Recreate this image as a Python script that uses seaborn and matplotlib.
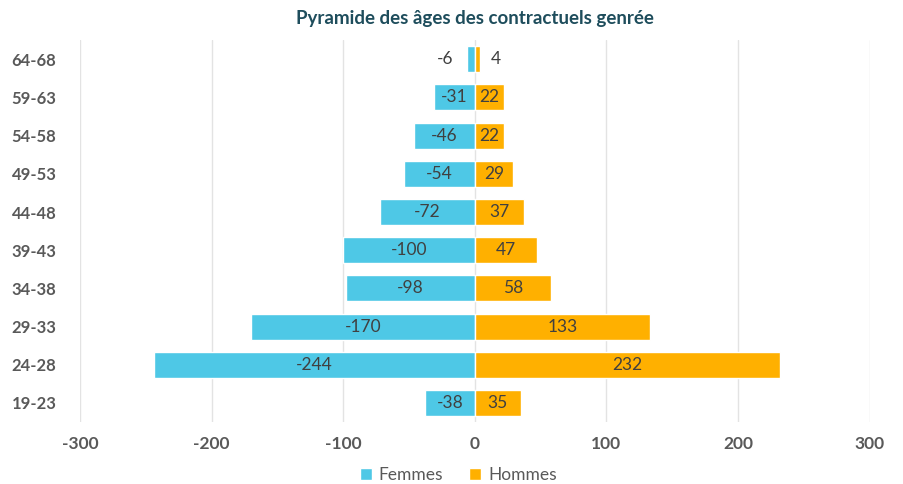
import matplotlib
matplotlib.use("Agg")
import matplotlib.pyplot as plt
import pandas as pd
import seaborn as sns

ages = ["64-68", "59-63", "54-58", "49-53", "44-48", "39-43", "34-38", "29-33", "24-28", "19-23"]
femmes = [-6, -31, -46, -54, -72, -100, -98, -170, -244, -38]
hommes = [4, 22, 22, 29, 37, 47, 58, 133, 232, 35]
xticks = [-300, -200, -100, 0, 100, 200, 300]

df = pd.DataFrame({
    "age": ages * 2,
    "value": femmes + hommes,
    "sexe": ["Femmes"] * len(ages) + ["Hommes"] * len(ages),
})

sns.set_style("white")
plt.rcParams["font.family"] = ["Lato", "DejaVu Sans"]

fig = plt.figure(figsize=(9.04, 4.84), dpi=100)
ax = fig.add_axes([0.0885, 0.128, 0.8735, 0.789])

sns.barplot(data=df, x="value", y="age", hue="sexe", order=ages, dodge=False,
            palette={"Femmes": "#4EC8E6", "Hommes": "#FFB000"}, saturation=1,
            width=0.68, orient="h", ax=ax, legend=True)

ax.set_xlim(-300, 300)
ax.set_xticks(xticks)
ax.set_xticklabels([str(t) for t in xticks], fontsize=12.5, fontweight="bold", color="#595959")
ax.tick_params(axis="y", labelsize=12, labelcolor="#595959", length=0, pad=17)
for lbl in ax.get_yticklabels():
    lbl.set_fontweight("bold")
ax.tick_params(axis="x", length=0, pad=10)
ax.set_xlabel("")
ax.set_ylabel("")
ax.grid(axis="x", color="#E3E3E3", linewidth=1)
ax.set_axisbelow(True)
for s in ax.spines.values():
    s.set_visible(False)

for i, (f, h) in enumerate(zip(femmes, hommes)):
    for v in (f, h):
        if abs(v) < 10:
            x = v + (-10 if v < 0 else 8)
            ha = "right" if v < 0 else "left"
        else:
            x = v / 2
            ha = "center"
        ax.text(x, i, str(v), ha=ha, va="center", fontsize=12.5, color="#404040")

ax.set_title("Pyramide des âges des contractuels genrée", fontsize=13.5,
             fontweight="bold", color="#1E4D5C", pad=12)

handles, labels = ax.get_legend_handles_labels()
ax.get_legend().remove()
fig.legend(handles, labels, loc="lower center", bbox_to_anchor=(0.507, -0.012), ncol=2,
           frameon=False, fontsize=12.5, handlelength=0.7, handleheight=0.7,
           handletextpad=0.4, columnspacing=1.5, labelcolor="#595959", borderaxespad=0.0)

fig.savefig("out.png", dpi=100)
